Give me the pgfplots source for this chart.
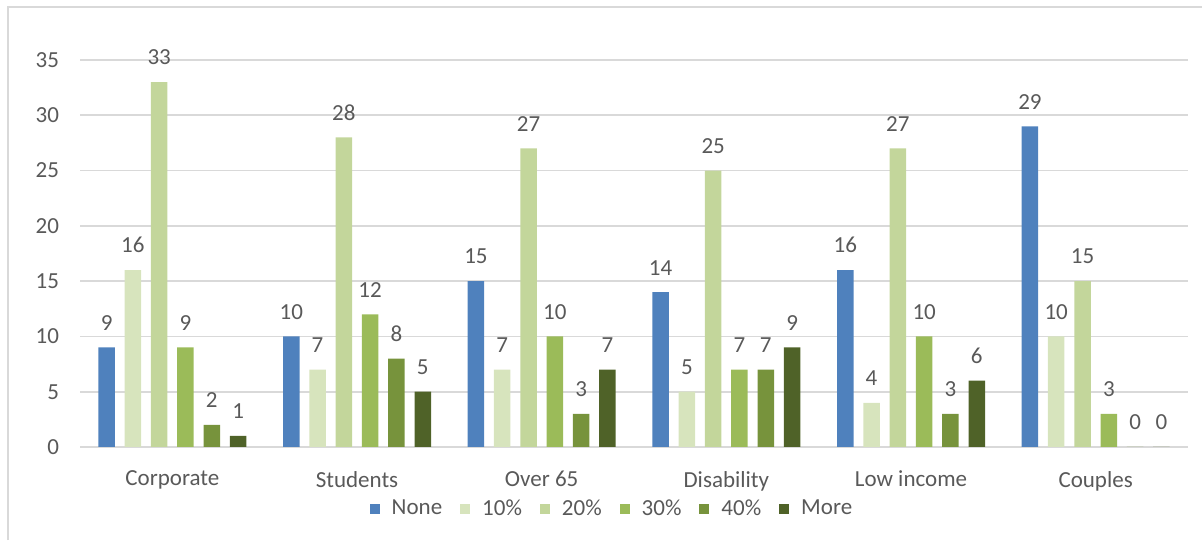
\documentclass[border=0pt]{standalone}
\usepackage{pgfplots}
\pgfplotsset{compat=1.18}
\usepackage{fontspec}
\setmainfont{Carlito}

\definecolor{cNone}{HTML}{4F81BD}
\definecolor{cTen}{HTML}{D7E4BD}
\definecolor{cTwenty}{HTML}{C3D69B}
\definecolor{cThirty}{HTML}{9BBB59}
\definecolor{cForty}{HTML}{77933C}
\definecolor{cMore}{HTML}{4F6228}
\definecolor{gridgray}{HTML}{D9D9D9}
\definecolor{textgray}{HTML}{595959}

\begin{document}
\begin{tikzpicture}[x=1pt,y=1pt]
\useasboundingbox (0,0) rectangle (601,270);
% chart frame (left and top edges)
\draw[gridgray, line width=0.8pt] (4,0) -- (4,266.5) -- (601,266.5);
\begin{axis}[
  at={(40pt,46.5pt)}, anchor=south west,
  scale only axis,
  width=554pt, height=193.5pt,
  ybar=4.9pt, bar width=8.25pt,
  xmin=-0.5, xmax=5.5,
  ymin=0, ymax=35,
  xtick={0,...,5},
  xticklabels={Corporate,Students,Over 65,Disability,Low income,Couples},
  ytick={0,5,...,35},
  major tick length=0pt,
  axis x line*=bottom,
  axis y line*=left,
  x axis line style={gridgray, line width=0.8pt, -},
  y axis line style={draw=none},
  ymajorgrids,
  grid style={gridgray, line width=0.8pt},
  font=\fontsize{11.5pt}{13pt}\selectfont,
  tick label style={textgray},
  /pgf/number format/assume math mode=true,
  xticklabel style={yshift=-8.5pt},
  yticklabel style={xshift=-7pt},
  nodes near coords,
  every node near coord/.append style={textgray, font=\fontsize{11.5pt}{13pt}\selectfont, yshift=5pt},
  legend columns=6,
  legend style={at={(0.481,-0.16)}, anchor=center, draw=none, fill=none,
    font=\fontsize{11.5pt}{13pt}\selectfont, text=textgray,
    /tikz/every even column/.append style={column sep=7pt}},
  legend image code/.code={\fill[#1] (0pt,-2.5pt) rectangle (5pt,2.5pt); \path (9pt,0pt);},
]
\addplot[fill=cNone, draw=none] coordinates {(0,9) (1,10) (2,15) (3,14) (4,16) (5,29)};
\addplot[fill=cTen, draw=none] coordinates {(0,16) (1,7) (2,7) (3,5) (4,4) (5,10)};
\addplot[fill=cTwenty, draw=none] coordinates {(0,33) (1,28) (2,27) (3,25) (4,27) (5,15)};
\addplot[fill=cThirty, draw=none] coordinates {(0,9) (1,12) (2,10) (3,7) (4,10) (5,3)};
\addplot[fill=cForty, draw=none] coordinates {(0,2) (1,8) (2,3) (3,7) (4,3) (5,0)};
\addplot[fill=cMore, draw=none] coordinates {(0,1) (1,5) (2,7) (3,9) (4,6) (5,0)};
\legend{None,10\%,20\%,30\%,40\%,More}
\end{axis}
\end{tikzpicture}
\end{document}
